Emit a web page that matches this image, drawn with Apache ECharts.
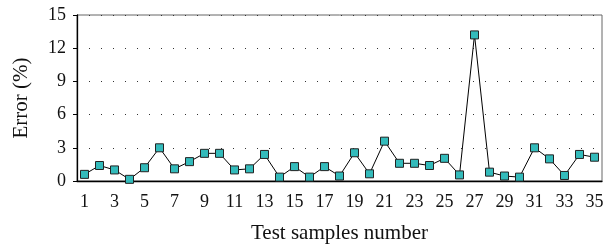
<!DOCTYPE html>
<html>
<head>
<meta charset="utf-8">
<script src="https://cdn.jsdelivr.net/npm/echarts@6/dist/echarts.min.js"></script>
<style>
html,body{margin:0;padding:0;background:#fff;}
#main{width:603px;height:248px;}
</style>
</head>
<body>
<div id="main"></div>
<script>
// 测试样本编号
var samples = [];
for (var i = 1; i <= 35; i++) samples.push(String(i));
// 误差 (%)
var errors = [0.6, 1.4, 1.0, 0.15, 1.2, 3.0, 1.1, 1.75, 2.5, 2.5,
              1.0, 1.1, 2.4, 0.35, 1.3, 0.35, 1.3, 0.45, 2.55, 0.65,
              3.6, 1.6, 1.6, 1.4, 2.05, 0.55, 13.2, 0.8, 0.45, 0.35,
              3.0, 2.0, 0.5, 2.4, 2.15];
var yTicks = [0, 3, 6, 9, 12, 15];

var font = 'Liberation Serif';
var myChart = echarts.init(document.getElementById('main'));
var option = {
	animation: false,
	grid: {
		left: 77, right: 1, top: 15, bottom: 67,
		outerBoundsMode: 'none',
		containLabel: false,
		show: true, borderColor: '#666', borderWidth: 1
	},
	xAxis: {
		type: 'category',
		data: samples,
		boundaryGap: true,
		name: 'Test samples number',
		nameLocation: 'middle',
		nameGap: 42,
		nameTextStyle: {fontFamily: font, fontSize: 21, color: '#111'},
		axisLine: {lineStyle: {color: '#000', width: 1.3}},
		axisTick: {interval: 0, length: 4, lineStyle: {color: '#000'}},
		axisLabel: {interval: 1, margin: 12, fontFamily: font, fontSize: 18, color: '#111'},
		splitLine: {show: false}
	},
	yAxis: {
		type: 'value',
		min: yTicks[0],
		max: yTicks[yTicks.length - 1],
		interval: 3,
		name: 'Error (%)',
		nameLocation: 'middle',
		nameGap: 45,
		nameTextStyle: {fontFamily: font, fontSize: 21, color: '#111'},
		axisLine: {show: true, lineStyle: {color: '#000', width: 1.3}},
		axisTick: {show: true, length: 4, lineStyle: {color: '#000'}},
		axisLabel: {margin: 11, fontFamily: font, fontSize: 18, color: '#111'},
		splitLine: {show: true, lineStyle: {color: '#333', width: 1, type: [1, 11]}}
	},
	series: [{
		name: 'Error',
		type: 'line',
		data: errors,
		symbol: 'rect',
		symbolSize: 8,
		lineStyle: {color: '#000', width: 1},
		itemStyle: {color: '#33bbbb', borderColor: '#222', borderWidth: 1}
	}]
};
myChart.setOption(option);
</script>
</body>
</html>
